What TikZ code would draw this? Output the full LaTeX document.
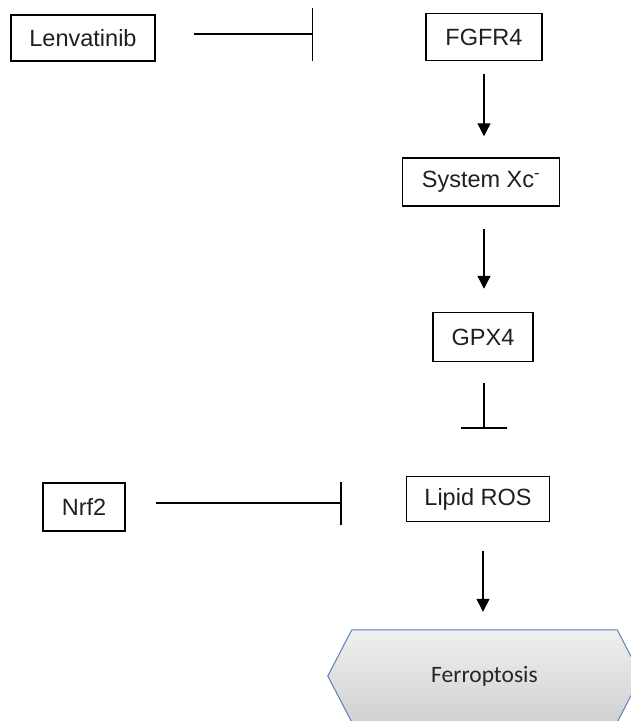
\documentclass[tikz,border=0pt]{standalone}
\usepackage{fontspec}
\setmainfont{Liberation Sans}
\newfontfamily\calfont{Carlito}
\usetikzlibrary{arrows.meta,calc,backgrounds}
\definecolor{hexblue}{HTML}{5B7FBF}
\tikzset{
  box/.style={draw, line width=1.5pt, inner sep=0pt, text=black!88, font=\fontsize{23.5}{26}\selectfont},
  act/.style={line width=1.4pt, -{Triangle[width=13pt,length=13pt]}},
  inhib/.style={line width=1.4pt, -{Bar[width=#1,line width=1.4pt]}},
}
\begin{document}
\begin{tikzpicture}[x=1pt,y=-1pt]
\useasboundingbox (0,0) rectangle (630,721);
\node[box, minimum width=144pt, minimum height=46pt] (len) at (83,38) {Lenvatinib};
\node[box, minimum width=116pt, minimum height=47pt] (fgfr) at (484,37) {FGFR4};
\node[box, minimum width=157pt, minimum height=48pt] (sys) at (481,182) {System Xc\textsuperscript{-}};
\node[box, minimum width=100pt, minimum height=49pt] (gpx) at (483,337) {GPX4};
\node[box, minimum width=143pt, minimum height=45pt] (lipid) at (478,499) {Lipid ROS};
\node[box, minimum width=82pt, minimum height=48pt] (nrf) at (84,507) {Nrf2};
\node[minimum width=265pt, minimum height=92pt, inner sep=0pt, font=\calfont\fontsize{23.5}{27}\selectfont, text=black!85] (ferro) at (484.5,676) {Ferroptosis};
\begin{pgfonlayer}{background}
\draw[hexblue, line width=1pt, top color=black!6, bottom color=black!18]
  (ferro.north west) -- (ferro.north east) -- ([xshift=24pt]ferro.east) -- (ferro.south east) -- (ferro.south west) -- ([xshift=-24pt]ferro.west) -- cycle;
\end{pgfonlayer}
% connectors
\draw[inhib=53pt, shorten <=38pt, shorten >=112pt] ([yshift=4pt]len.east) -- ([yshift=4pt]len.east -| fgfr.west);
\draw[act, shorten <=13pt, shorten >=21pt] (fgfr.south) -- (fgfr.south |- sys.north);
\draw[act, shorten <=22pt, shorten >=23pt] (sys.south -| fgfr.south) -- (fgfr.south |- gpx.north);
\draw[inhib=46pt, shorten <=21pt, shorten >=47pt] (gpx.south -| fgfr.south) -- (fgfr.south |- lipid.north);
\draw[inhib=43pt, shorten <=30pt, shorten >=64pt] ([yshift=4pt]nrf.east) -- ([yshift=4pt]nrf.east -| lipid.west);
\draw[act, shorten <=29pt, shorten >=18pt] (lipid.south -| 483,0) -- (ferro.north -| 483,0);
\end{tikzpicture}
\end{document}
